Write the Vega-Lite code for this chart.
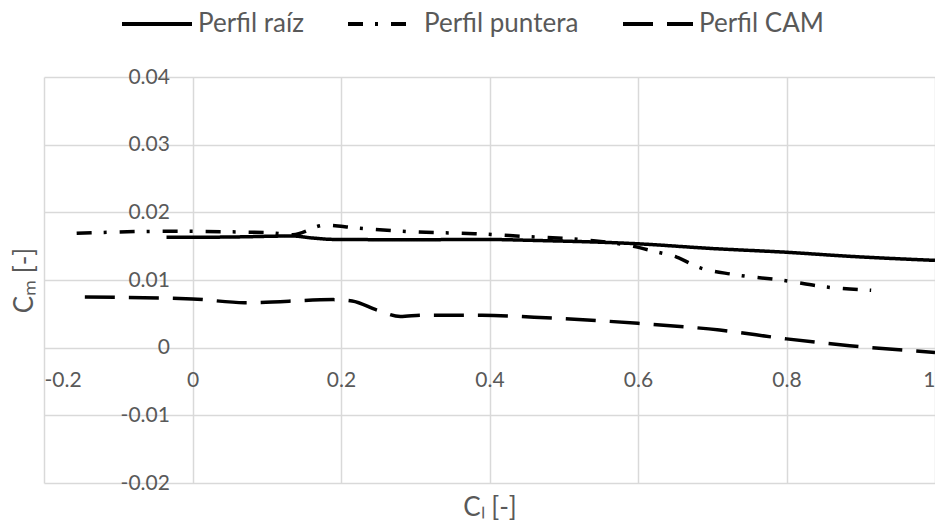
{
  "$schema": "https://vega.github.io/schema/vega-lite/v6.json",
  "autosize": {"type": "none"},
  "padding": {"left": 44, "top": 77, "right": 0, "bottom": 40},
  "width": 891,
  "height": 406,
  "background": "white",
  "config": {
    "view": {"stroke": null},
    "axis": {
      "labelFont": "Lato",
      "labelFontSize": 21,
      "labelColor": "#595959",
      "titleFont": "Lato",
      "titleFontSize": 26,
      "titleFontWeight": "normal",
      "titleColor": "#595959",
      "gridColor": "#d9d9d9",
      "gridWidth": 1.5,
      "domain": false,
      "ticks": false
    },
    "legend": {
      "labelFont": "Lato",
      "labelFontSize": 26,
      "labelColor": "#595959"
    }
  },
  "data": {
    "values": [
      {"serie": "Perfil raíz", "cl": -0.035, "cm": 0.0163},
      {"serie": "Perfil raíz", "cl": 0.05, "cm": 0.01635},
      {"serie": "Perfil raíz", "cl": 0.135, "cm": 0.0165},
      {"serie": "Perfil raíz", "cl": 0.162, "cm": 0.0162},
      {"serie": "Perfil raíz", "cl": 0.19, "cm": 0.016},
      {"serie": "Perfil raíz", "cl": 0.3, "cm": 0.01595},
      {"serie": "Perfil raíz", "cl": 0.39, "cm": 0.016},
      {"serie": "Perfil raíz", "cl": 0.46, "cm": 0.01585},
      {"serie": "Perfil raíz", "cl": 0.6, "cm": 0.01535},
      {"serie": "Perfil raíz", "cl": 0.7, "cm": 0.01465},
      {"serie": "Perfil raíz", "cl": 0.8, "cm": 0.0141},
      {"serie": "Perfil raíz", "cl": 0.885, "cm": 0.0135},
      {"serie": "Perfil raíz", "cl": 1.0, "cm": 0.0129},

      {"serie": "Perfil puntera", "cl": -0.156, "cm": 0.0169},
      {"serie": "Perfil puntera", "cl": -0.035, "cm": 0.0172},
      {"serie": "Perfil puntera", "cl": 0.1, "cm": 0.017},
      {"serie": "Perfil puntera", "cl": 0.135, "cm": 0.0167},
      {"serie": "Perfil puntera", "cl": 0.178, "cm": 0.0181},
      {"serie": "Perfil puntera", "cl": 0.22, "cm": 0.0177},
      {"serie": "Perfil puntera", "cl": 0.3, "cm": 0.0171},
      {"serie": "Perfil puntera", "cl": 0.38, "cm": 0.01685},
      {"serie": "Perfil puntera", "cl": 0.445, "cm": 0.01645},
      {"serie": "Perfil puntera", "cl": 0.535, "cm": 0.01586},
      {"serie": "Perfil puntera", "cl": 0.594, "cm": 0.01497},
      {"serie": "Perfil puntera", "cl": 0.62, "cm": 0.01428},
      {"serie": "Perfil puntera", "cl": 0.652, "cm": 0.01339},
      {"serie": "Perfil puntera", "cl": 0.683, "cm": 0.01182},
      {"serie": "Perfil puntera", "cl": 0.728, "cm": 0.01083},
      {"serie": "Perfil puntera", "cl": 0.795, "cm": 0.00995},
      {"serie": "Perfil puntera", "cl": 0.854, "cm": 0.00896},
      {"serie": "Perfil puntera", "cl": 0.914, "cm": 0.00847},

      {"serie": "Perfil CAM", "cl": -0.145, "cm": 0.0075},
      {"serie": "Perfil CAM", "cl": 0.0, "cm": 0.0072},
      {"serie": "Perfil CAM", "cl": 0.07, "cm": 0.00665},
      {"serie": "Perfil CAM", "cl": 0.19, "cm": 0.0071},
      {"serie": "Perfil CAM", "cl": 0.215, "cm": 0.0069},
      {"serie": "Perfil CAM", "cl": 0.25, "cm": 0.0055},
      {"serie": "Perfil CAM", "cl": 0.28, "cm": 0.0046},
      {"serie": "Perfil CAM", "cl": 0.31, "cm": 0.0048},
      {"serie": "Perfil CAM", "cl": 0.39, "cm": 0.0048},
      {"serie": "Perfil CAM", "cl": 0.46, "cm": 0.0045},
      {"serie": "Perfil CAM", "cl": 0.6, "cm": 0.0036},
      {"serie": "Perfil CAM", "cl": 0.71, "cm": 0.0026},
      {"serie": "Perfil CAM", "cl": 0.8, "cm": 0.0013},
      {"serie": "Perfil CAM", "cl": 0.885, "cm": 0.0003},
      {"serie": "Perfil CAM", "cl": 1.0, "cm": -0.0007}
    ]
  },
  "mark": {"type": "line", "color": "black", "strokeWidth": 3.5, "interpolate": "monotone", "strokeCap": "butt"},
  "encoding": {
    "x": {
      "field": "cl", "type": "quantitative",
      "scale": {"domain": [-0.2, 1], "nice": false, "zero": false},
      "axis": {
        "title": "Cₗ [-]",
        "values": [-0.2, 0, 0.2, 0.4, 0.6, 0.8, 1],
        "labelExpr": "'' + datum.value",
        "offset": -135.4,
        "labelPadding": 22,
        "labelBaseline": "top",
        "titleY": 160,
        "titleBaseline": "middle"
      }
    },
    "y": {
      "field": "cm", "type": "quantitative",
      "scale": {"domain": [-0.02, 0.04], "nice": false, "zero": false},
      "axis": {
        "title": "Cₘ [-]",
        "values": [-0.02, -0.01, 0, 0.01, 0.02, 0.03, 0.04],
        "labelExpr": "'' + datum.value",
        "offset": -148.4,
        "labelPadding": 23,
        "titleX": -168,
        "titleY": 203,
        "titleAngle": -90,
        "titleBaseline": "middle"
      }
    },
    "strokeDash": {
      "field": "serie", "type": "nominal",
      "scale": {
        "domain": ["Perfil raíz", "Perfil puntera", "Perfil CAM"],
        "range": [[1, 0], [15, 12, 3, 13], [30, 14]]
      },
      "legend": {
        "title": null,
        "orient": "none",
        "direction": "horizontal",
        "legendX": 76,
        "legendY": -90,
        "symbolType": "stroke",
        "symbolSize": 4900,
        "symbolStrokeWidth": 4,
        "symbolStrokeColor": "black",
        "labelOffset": 4,
        "columnPadding": 36,
        "padding": 0
      }
    }
  }
}
